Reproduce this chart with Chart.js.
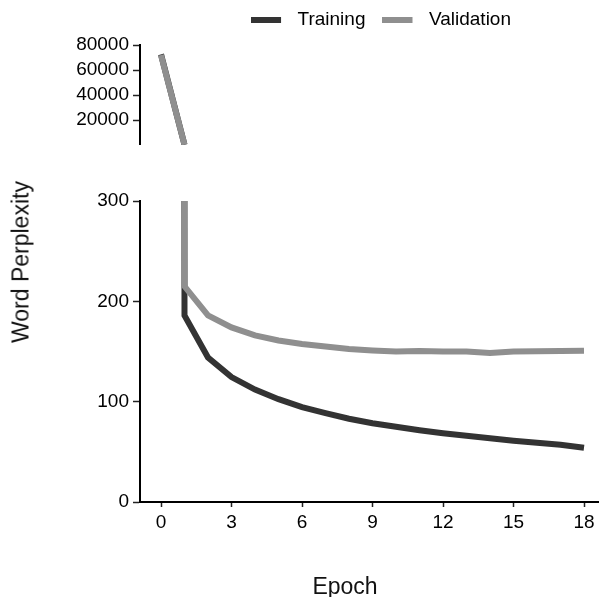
<!DOCTYPE html>
<html>
<head>
<meta charset="utf-8">
<script src="https://cdn.jsdelivr.net/npm/chart.js@4/dist/chart.umd.min.js"></script>
<style>
  html, body { margin: 0; padding: 0; background: #fff; overflow: hidden; }
  #wrap { position: relative; width: 599px; height: 597px; overflow: hidden; background: #fff; }
  #upperPanel { position: absolute; left: 0; top: -7px; }
  #lowerPanel { position: absolute; left: 0; top: 150px; }
  .axis-title { position: absolute; font-family: "Liberation Sans", Arial, sans-serif; font-size: 23px; color: #111; white-space: nowrap; line-height: 1; }
  #yTitle { left: 21px; top: 261.5px; transform: translate(-50%, -50%) rotate(-90deg); }
  #xTitle { left: 345px; top: 586px; transform: translate(-50%, -50%); }
</style>
</head>
<body>
<div id="wrap">
  <canvas id="upperPanel" width="622" height="152"></canvas>
  <canvas id="lowerPanel" width="599" height="447"></canvas>
  <div id="yTitle" class="axis-title">Word Perplexity</div>
  <div id="xTitle" class="axis-title">Epoch</div>
</div>
<script>
// Perplexity per epoch
const epochs = [0, 1, 2, 3, 4, 5, 6, 7, 8, 9, 10, 11, 12, 13, 14, 15, 16, 17, 18];
const trainingPerplexity = [72500, 186, 144, 124.5, 112, 102.5, 94.5, 88.5, 83, 78.5, 75, 71.5, 68.5, 66, 63.5, 61, 59, 57, 54];
const validationPerplexity = [72000, 215, 186, 174, 166, 161, 157.5, 155, 152.5, 151, 150, 150.5, 150, 150, 148.5, 150, 150.3, 150.5, 150.8];

// Broken y axis: upper and lower ranges with their ticks
const upperTicks = [20000, 40000, 60000, 80000];
const lowerTicks = [0, 100, 200, 300];
const epochTicks = [0, 3, 6, 9, 12, 15, 18];

const TRAIN_COLOR = '#333333';
const VALID_COLOR = '#8f8f8f';
const FONT = '"Liberation Sans", Arial, Helvetica, sans-serif';

Chart.defaults.font.family = FONT;
Chart.defaults.color = '#000';

// legend swatch: short thick bar followed by a small blank gap
function swatch(color) {
  const c = document.createElement('canvas');
  c.width = 37; c.height = 6;
  const g = c.getContext('2d');
  g.fillStyle = color;
  g.fillRect(0, 0, 30, 6);
  return c;
}

function points(values) {
  return epochs.map((e, i) => ({ x: e, y: values[i] }));
}

const lowerMax = lowerTicks[lowerTicks.length - 1];

function makeDatasets(hideLowRange) {
  const seg = hideLowRange ? {
    borderColor: ctx => (ctx.p0.parsed.y <= lowerMax && ctx.p1.parsed.y <= lowerMax) ? 'rgba(0,0,0,0)' : undefined
  } : {};
  return [
    {
      label: 'Training', data: points(trainingPerplexity),
      borderColor: TRAIN_COLOR, backgroundColor: TRAIN_COLOR, borderWidth: 6,
      pointRadius: 0, pointStyle: swatch(TRAIN_COLOR), tension: 0, clip: 0, order: 1, segment: seg
    },
    {
      label: 'Validation', data: points(validationPerplexity),
      borderColor: VALID_COLOR, backgroundColor: VALID_COLOR, borderWidth: 6,
      pointRadius: 0, pointStyle: swatch(VALID_COLOR), tension: 0, clip: 0, order: 0, segment: seg
    }
  ];
}

function yAxis(min, max, tickValues) {
  return {
    type: 'linear', position: 'left', min: min, max: max,
    afterBuildTicks: s => { s.ticks = tickValues.map(v => ({ value: v })); },
    afterFit: s => { s.width = 140; s.paddingTop = 0; s.paddingBottom = 0; },
    grid: { drawOnChartArea: false, drawTicks: true, tickLength: 7, tickColor: '#222', tickWidth: 1.5 },
    border: { display: true, color: '#000', width: 2 },
    ticks: { padding: 4, font: { size: 19 }, color: '#000', callback: v => String(v) }
  };
}

// extra room between legend and plot
const legendGap = {
  id: 'legendGap',
  beforeInit(chart) {
    const fit = chart.legend.fit;
    chart.legend.fit = function () { fit.call(this); this.height += 6; };
  }
};

const PX_PER_EPOCH = 23.5;
const X_MIN = -21 / PX_PER_EPOCH;

// upper panel (large values) with legend
new Chart(document.getElementById('upperPanel'), {
  type: 'line',
  data: { datasets: makeDatasets(true) },
  plugins: [legendGap],
  options: {
    responsive: false, animation: false, events: [], devicePixelRatio: 1,
    layout: { padding: 0 },
    scales: {
      x: { type: 'linear', display: false, min: X_MIN, max: X_MIN + 482 / PX_PER_EPOCH },
      y: yAxis(0, 80000, upperTicks)
    },
    plugins: {
      tooltip: { enabled: false },
      legend: {
        display: true, position: 'top', fullSize: false,
        labels: {
          usePointStyle: true, pointStyleWidth: 37, padding: 17,
          font: { size: 19 }, color: '#000',
          sort: (a, b) => a.datasetIndex - b.datasetIndex
        }
      }
    }
  }
});

// lower panel (small values) with epoch axis
new Chart(document.getElementById('lowerPanel'), {
  type: 'line',
  data: { datasets: makeDatasets(false) },
  options: {
    responsive: false, animation: false, events: [], devicePixelRatio: 1,
    layout: { padding: { top: 51, left: 0, right: 0, bottom: 0 } },
    scales: {
      x: {
        type: 'linear', min: X_MIN, max: X_MIN + 459 / PX_PER_EPOCH,
        afterBuildTicks: s => { s.ticks = epochTicks.map(v => ({ value: v })); },
        afterFit: s => { s.height = 95; s.paddingLeft = 0; s.paddingRight = 0; },
        grid: { drawOnChartArea: false, drawTicks: true, tickLength: 5, tickColor: '#222', tickWidth: 1.5 },
        border: { display: true, color: '#000', width: 2 },
        ticks: { padding: 4, font: { size: 19 }, color: '#000', maxRotation: 0, callback: v => String(v) }
      },
      y: yAxis(0, 300, lowerTicks)
    },
    plugins: { legend: { display: false }, tooltip: { enabled: false } }
  }
});
</script>
</body>
</html>
